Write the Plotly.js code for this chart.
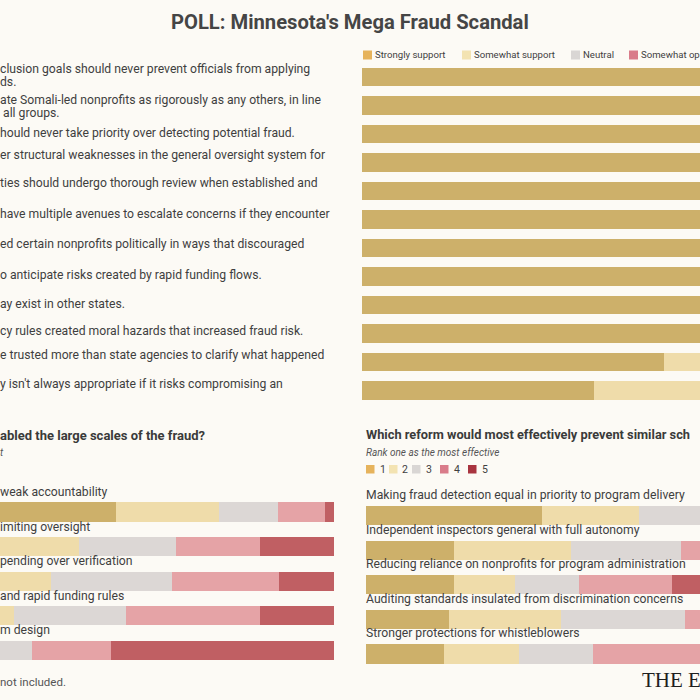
<!DOCTYPE html>
<html>
<head>
<meta charset="utf-8">
<script src="https://cdn.plot.ly/plotly-3.0.1.min.js"></script>
<style>
html,body{margin:0;padding:0;background:#fcfaf5;overflow:hidden;}
#chart{width:700px;height:700px;}
</style>
</head>
<body>
<div id="chart"></div>
<script>
// ---------- DATA ----------
// Top chart: support for statements (visible parts of the labels)
const stmtLine1 = [
  "clusion goals should never prevent officials from applying",
  "ate Somali-led nonprofits as rigorously as any others, in line",
  "hould never take priority over detecting potential fraud.",
  "er structural weaknesses in the general oversight system for",
  "ties should undergo thorough review when established and",
  "have multiple avenues to escalate concerns if they encounter",
  "ed certain nonprofits politically in ways that discouraged",
  "o anticipate risks created by rapid funding flows.",
  "ay exist in other states.",
  "cy rules created moral hazards that increased fraud risk.",
  "e trusted more than state agencies to clarify what happened",
  "y isn't always appropriate if it risks compromising an"
];
const stmtLine2 = ["ds.", " all groups.", "", "", "", "", "", "", "", "", "", ""];
const stmtIds = ["s1","s2","s3","s4","s5","s6","s7","s8","s9","s10","s11","s12"];
const supportLevels = ["Strongly support","Somewhat support","Neutral","Somewhat op","Strongly oppose"];
const stronglySupport = [88, 86, 85, 83, 82, 80, 79, 77, 74, 70, 58.4, 44.9];
const somewhatSupport = [8, 9, 10, 11, 12, 13, 14, 15, 17, 19, 25, 30];
const neutral         = [2, 3, 3, 3, 3, 4, 4, 5, 5, 6, 10, 14];
const somewhatOppose  = [1, 1, 1, 2, 2, 2, 2, 2, 3, 3, 4, 7];
const stronglyOppose  = [1, 1, 1, 1, 1, 1, 1, 1, 1, 2, 2.6, 4.1];

// Bottom-left: what enabled the fraud (ranked 1-5)
const causes = ["weak accountability","imiting oversight","pending over verification","and rapid funding rules","m design"];
const causeRank1 = [57.5, 20.0, 12.0, 7.0, 3.5];
const causeRank2 = [20.1, 30.3, 32.8, 30.6, 9.6];
const causeRank3 = [11.5, 18.9, 23.6, 21.8, 28.0];
const causeRank4 = [9.2, 16.4, 20.9, 26.1, 15.4];
const causeRank5 = [1.7, 14.4, 10.7, 14.5, 43.5];

// Bottom-right: which reform would most effectively prevent similar schemes (ranked 1-5)
const reforms = [
  "Making fraud detection equal in priority to program delivery",
  "Independent inspectors general with full autonomy",
  "Reducing reliance on nonprofits for program administration",
  "Auditing standards insulated from discrimination concerns",
  "Stronger protections for whistleblowers"
];
const reformRank1 = [34.3, 17.2, 17.2, 16.2, 15.2];
const reformRank2 = [18.9, 22.8, 11.9, 21.8, 14.6];
const reformRank3 = [18.0, 21.4, 12.5, 24.2, 14.4];
const reformRank4 = [16.0, 20.0, 18.1, 22.0, 30.0];
const reformRank5 = [12.8, 18.6, 40.3, 15.8, 25.8];
const rankLabels = ["1","2","3","4","5"];

// ---------- STYLE ----------
const barColors = ["#cdb06a","#efdcaa","#dcd7d5","#e5a3a6","#c05f63"];
const legendColors = ["#e6b35c","#f3e3b2","#d9d6d4","#d97c8a","#a8343f"];
const FONT = "Roboto, 'Open Sans', sans-serif";
const TXT = "#3f3f3f";
const BG = "#fcfaf5";

const H = 700;
const py = p => 1 - p / H;   // pixel -> paper y
const px = p => p / H;       // pixel -> paper x

const traces = [];
const topSeries = [stronglySupport, somewhatSupport, neutral, somewhatOppose, stronglyOppose];
topSeries.forEach((vals, i) => {
  traces.push({type:"bar", orientation:"h", x: vals, y: stmtIds, xaxis:"x", yaxis:"y",
    name: supportLevels[i], marker:{color: barColors[i], line:{width:0}}, width:0.66,
    hoverinfo:"x+name", showlegend:false});
});
const causeSeries = [causeRank1, causeRank2, causeRank3, causeRank4, causeRank5];
causeSeries.forEach((vals, i) => {
  traces.push({type:"bar", orientation:"h", x: vals, y: causes, xaxis:"x2", yaxis:"y2",
    name: rankLabels[i], marker:{color: barColors[i], line:{width:0}}, width:0.55,
    hoverinfo:"x+name", showlegend:false});
});
const reformSeries = [reformRank1, reformRank2, reformRank3, reformRank4, reformRank5];
reformSeries.forEach((vals, i) => {
  traces.push({type:"bar", orientation:"h", x: vals, y: reforms, xaxis:"x3", yaxis:"y3",
    name: rankLabels[i], marker:{color: barColors[i], line:{width:0}}, width:0.55,
    hoverinfo:"x+name", showlegend:false});
});

const hidden = {showgrid:false, zeroline:false, showticklabels:false, ticks:"", showline:false, fixedrange:true};

const annotations = [];
const shapes = [];
function txt(text, x, y, size, opts) {
  annotations.push(Object.assign({text: text, x: x, y: y, xref:"paper", yref:"paper",
    xanchor:"left", yanchor:"middle", showarrow:false, borderpad:0, borderwidth:0,
    font:{family:FONT, size:size, color:TXT}}, opts || {}));
}

// Title
annotations.push({text:"POLL: Minnesota's Mega Fraud Scandal", x:0.5, y:py(22), xref:"paper", yref:"paper",
  xanchor:"center", yanchor:"middle", showarrow:false, borderpad:0, borderwidth:0,
  font:{family:FONT, size:20.2, color:"#454545", weight:700}});

// Top statement labels
const line1Y = [69, 100, 132.5, 155, 183.5, 214, 244, 275, 304, 331, 354.5, 383.5];
stmtLine1.forEach((t, i) => { txt(t, 0, py(line1Y[i]), 12.2); });
stmtLine2.forEach((t, i) => { if (t) txt(t, 0, py(line1Y[i] + 13), 12.2); });

// Top legend
const topLegX = [363, 462, 571, 629];
supportLevels.slice(0,4).forEach((name, i) => {
  shapes.push({type:"rect", xref:"paper", yref:"paper", x0:px(topLegX[i]), x1:px(topLegX[i]+9),
    y0:py(59.5), y1:py(50.5), fillcolor:legendColors[i], line:{width:0}});
  txt(name, px(topLegX[i]+12), py(55), 9.6);
});

// Bottom-left chart title
txt("abled the large scales of the fraud?", 0, py(435), 13, {font:{family:FONT, size:13, color:"#3a3a3a", weight:700}});
txt("t", 0, py(452), 10, {font:{family:FONT, size:10, color:"#555", style:"italic"}});

// Bottom-right chart title / subtitle / legend
txt("Which reform would most effectively prevent similar sch", px(366), py(434), 12.8, {font:{family:FONT, size:12.8, color:"#3a3a3a", weight:700}});
txt("Rank one as the most effective", px(366), py(452), 10, {font:{family:FONT, size:10, color:"#555", style:"italic"}});
const rankLegX = [366, 389, 412, 440, 468];
rankLabels.forEach((r, i) => {
  shapes.push({type:"rect", xref:"paper", yref:"paper", x0:px(rankLegX[i]), x1:px(rankLegX[i]+8.5),
    y0:py(473.5), y1:py(465), fillcolor:legendColors[i], line:{width:0}});
  txt(r, px(rankLegX[i]+13.5), py(469.5), 10.5);
});

// Row labels above bars
causes.forEach(c => {
  annotations.push({text:c, x:0, y:c, xref:"paper", yref:"y2", xanchor:"left", yanchor:"middle",
    yshift:20, showarrow:false, borderpad:0, borderwidth:0, font:{family:FONT, size:12.2, color:TXT}});
});
reforms.forEach(r => {
  annotations.push({text:r, x:px(366), y:r, xref:"paper", yref:"y3", xanchor:"left", yanchor:"middle",
    yshift:20.5, showarrow:false, borderpad:0, borderwidth:0, font:{family:FONT, size:12.2, color:TXT}});
});

// Footnote and logo
txt("not included.", 0, py(682), 11.5, {font:{family:FONT, size:11.5, color:"#555"}});
annotations.push({text:"THE E", x:px(642), y:py(680), xref:"paper", yref:"paper", xanchor:"left", yanchor:"middle",
  showarrow:false, borderpad:0, borderwidth:0,
  font:{family:"'Liberation Serif', 'DejaVu Serif', serif", size:21, color:"#1e1e1e"}});

const layout = {
  width:700, height:700,
  margin:{l:0, r:0, t:0, b:0, pad:0},
  paper_bgcolor:BG, plot_bgcolor:BG,
  barmode:"stack", bargap:0,
  showlegend:false,
  xaxis: Object.assign({domain:[px(362), 1], range:[0, 65.38], anchor:"y"}, hidden),
  yaxis: Object.assign({domain:[py(404.75), py(62.75)], type:"category", categoryarray:stmtIds,
    categoryorder:"array", range:[11.5, -0.5], anchor:"x"}, hidden),
  xaxis2: Object.assign({domain:[0, px(334)], range:[34.89, 100], anchor:"y2"}, hidden),
  yaxis2: Object.assign({domain:[py(667.8), py(494.7)], type:"category", categoryarray:causes,
    categoryorder:"array", range:[4.5, -0.5], anchor:"x2"}, hidden),
  xaxis3: Object.assign({domain:[px(366), 1], range:[0, 65.11], anchor:"y3"}, hidden),
  yaxis3: Object.assign({domain:[py(671.3), py(498.2)], type:"category", categoryarray:reforms,
    categoryorder:"array", range:[4.5, -0.5], anchor:"x3"}, hidden),
  annotations: annotations,
  shapes: shapes
};

Plotly.newPlot("chart", traces, layout, {displayModeBar:false, staticPlot:true});
</script>
</body>
</html>
